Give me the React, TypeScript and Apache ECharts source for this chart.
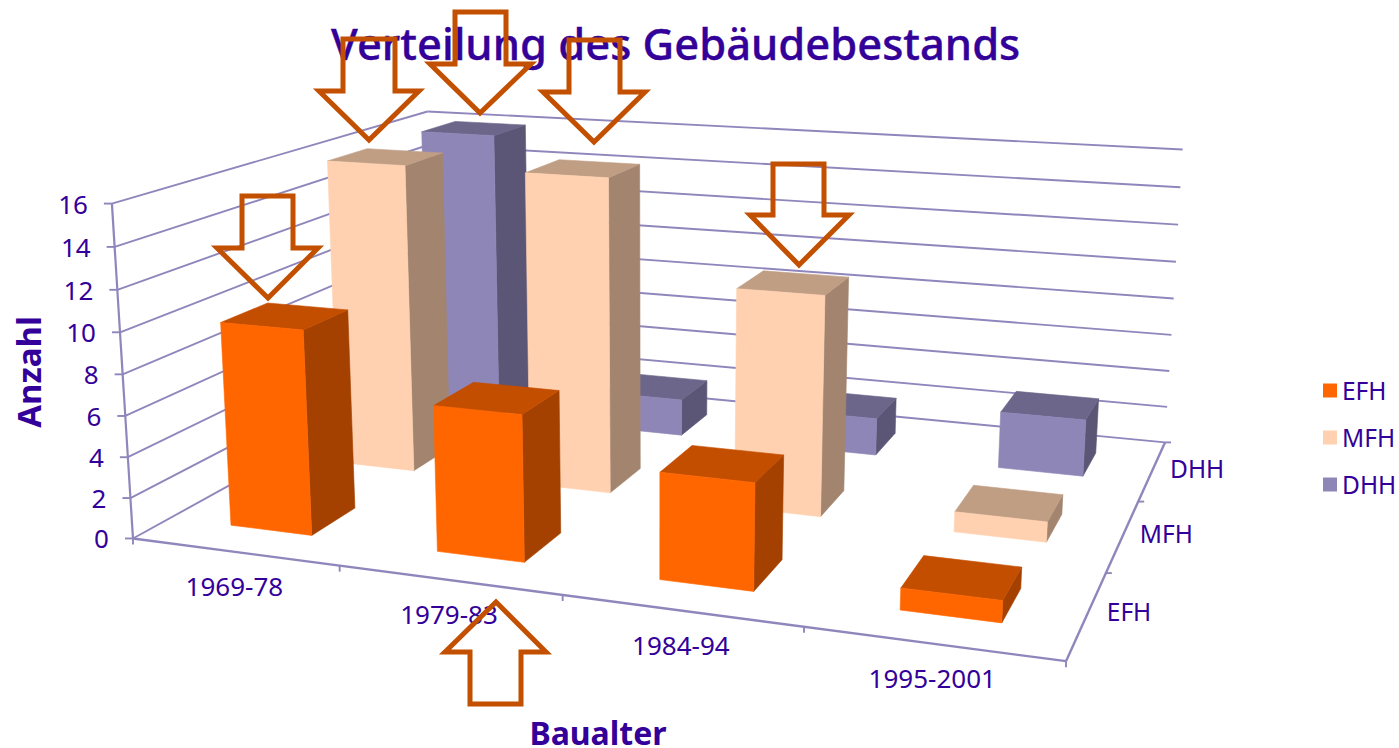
import React, { useEffect, useRef } from "react";
import * as echarts from "echarts";

const periods = ["1969-78", "1979-83", "1984-94", "1995-2001"];
const types = ["EFH", "MFH", "DHH"];
const efhValues = [10, 7, 5, 1];
const mfhValues = [16, 16, 11, 1];
const dhhValues = [16, 2, 2, 3];
const valueTicks = [0, 2, 4, 6, 8, 10, 12, 14, 16];

const TEXT = "#330099";
const GRID = "#8F86BC";
const FONT = "'Noto Sans', sans-serif";

// Calibration of the 3D view: [period, depth, value] -> picture position
const calib: number[][] = [
  [0, 0, 0, 133, 538],
  [1, 0, 0, 340, 566],
  [2, 0, 0, 563, 597],
  [3, 0, 0, 803, 629],
  [4, 0, 0, 1065, 660],
  [4, 1, 0, 1107, 572],
  [4, 2, 0, 1138, 501],
  [4, 3, 0, 1165, 442],
  [0, 0, 8, 123, 373],
  [0, 0, 16, 112, 203],
  [0, 3, 16, 427, 112],
  [4, 3, 16, 1183, 150],
];

function solveProjection(): number[] {
  const rows: number[][] = [];
  const rhs: number[] = [];
  for (const [a, b, c, u0, v0] of calib) {
    const x = a / 4, y = b / 3, z = c / 16, u = u0 / 1000, v = v0 / 1000;
    rows.push([x, y, z, 1, 0, 0, 0, 0, -u * x, -u * y, -u * z]); rhs.push(u);
    rows.push([0, 0, 0, 0, x, y, z, 1, -v * x, -v * y, -v * z]); rhs.push(v);
  }
  const n = 11;
  const m: number[][] = [];
  for (let i = 0; i < n; i++) {
    const r: number[] = [];
    for (let j = 0; j < n; j++) r.push(rows.reduce((s, w) => s + w[i] * w[j], 0));
    r.push(rows.reduce((s, w, k) => s + w[i] * rhs[k], 0));
    m.push(r);
  }
  for (let i = 0; i < n; i++) {
    let p = i;
    for (let k = i + 1; k < n; k++) if (Math.abs(m[k][i]) > Math.abs(m[p][i])) p = k;
    [m[i], m[p]] = [m[p], m[i]];
    for (let k = 0; k < n; k++) {
      if (k === i) continue;
      const f = m[k][i] / m[i][i];
      for (let j = i; j <= n; j++) m[k][j] -= f * m[i][j];
    }
  }
  return m.map((r, i) => r[n] / r[i]);
}
const P = solveProjection();
function proj(a: number, b: number, c: number): number[] {
  const x = a / 4, y = b / 3, z = c / 16;
  const w = P[8] * x + P[9] * y + P[10] * z + 1;
  return [
    (1000 * (P[0] * x + P[1] * y + P[2] * z + P[3])) / w,
    (1000 * (P[4] * x + P[5] * y + P[6] * z + P[7])) / w,
  ];
}

const BAR_MARGIN = 0.3;
const BAR_SHIFT = 0.005;
const line = (p: number[], q: number[], w = 1.9) => ({
  type: "line",
  shape: { x1: p[0], y1: p[1], x2: q[0], y2: q[1] },
  style: { stroke: GRID, lineWidth: w },
  silent: true,
});
const label = (text: string, x: number, y: number, align = "center", size = 26) => ({
  type: "text",
  style: { text, x, y, align, verticalAlign: "middle", fill: TEXT, font: `${size}px ${FONT}` },
  silent: true,
});

function barSeries(name: string, values: number[], depth: number, front: string, top: string, side: string) {
  return {
    type: "custom",
    name,
    coordinateSystem: "cartesian2d",
    itemStyle: { color: front },
    encode: { x: 0, y: 1 },
    data: values.map((v, i) => [i, v]),
    renderItem: (_p: any, api: any) => {
      const cat = api.value(0), val = api.value(1);
      const x0 = cat + BAR_MARGIN + BAR_SHIFT, x1 = cat + 1 - BAR_MARGIN + BAR_SHIFT;
      const y0 = depth + BAR_MARGIN, y1 = depth + 1 - BAR_MARGIN;
      const face = (pts: number[][], fill: string) => ({
        type: "polygon",
        shape: { points: pts.map((q) => proj(q[0], q[1], q[2])) },
        style: { fill, stroke: fill, lineWidth: 0.6 },
      });
      return {
        type: "group",
        children: [
          face([[x1, y0, 0], [x1, y1, 0], [x1, y1, val], [x1, y0, val]], side),
          face([[x0, y0, val], [x1, y0, val], [x1, y1, val], [x0, y1, val]], top),
          face([[x0, y0, 0], [x1, y0, 0], [x1, y0, val], [x0, y0, val]], front),
        ],
      };
    },
  };
}

const arrows: number[][][] = [
  [[242, 196], [293, 196], [293, 248], [318, 248], [268, 298], [217, 248], [242, 248]],
  [[343, 39], [395, 39], [395, 91], [419, 91], [369, 140], [319, 91], [343, 91]],
  [[455, 12], [506, 12], [506, 64], [531, 64], [480, 113], [430, 64], [455, 64]],
  [[569, 40], [620, 40], [620, 92], [645, 92], [594, 142], [543, 92], [569, 92]],
  [[773, 164], [824, 164], [824, 215], [849, 215], [799, 265], [750, 215], [773, 215]],
  [[496, 602], [546, 652], [521, 652], [521, 704], [470, 704], [470, 652], [445, 652]],
];

export default function App() {
  const ref = useRef<HTMLDivElement>(null);
  useEffect(() => {
    document.body.style.margin = "0";
    const chart = echarts.init(ref.current!, undefined, { renderer: "svg" });
    chart.setOption({
      animation: false,
      backgroundColor: "#fff",
      title: {
        text: "Verteilung des Gebäudebestands",
        left: 326,
        top: 16,
        textStyle: {
          color: TEXT,
          fontFamily: FONT,
          fontSize: 43.5,
          fontWeight: 500,
          textBorderColor: TEXT,
          textBorderWidth: 0.4,
        },
      },
      grid: { left: 0, right: 0, top: 0, bottom: 0 },
      xAxis: { type: "category", data: periods, show: false },
      yAxis: { type: "value", min: 0, max: 16, show: false },
      legend: {
        data: types,
        orient: "vertical",
        left: 1323,
        top: 378,
        padding: 0,
        itemWidth: 14,
        itemHeight: 14,
        itemGap: 22,
        icon: "rect",
        textStyle: { color: TEXT, fontFamily: FONT, fontSize: 24.5 },
        selectedMode: false,
      },
      series: [
        {
          type: "custom",
          name: "grid",
          coordinateSystem: "cartesian2d",
          encode: { x: 0, y: 1 },
          data: valueTicks.map((v) => [0, v]),
          renderItem: (_p: any, api: any) => {
            const v = api.value(1);
            const a = proj(0, 0, v), b = proj(0, 3, v), c = proj(4, 3, v);
            return {
              type: "group",
              children: [
                line(a, b),
                line(b, c),
                line([a[0] - 8, a[1]], a),
                label(String(v), a[0] - 24, a[1], "right"),
              ],
            };
          },
        },
        {
          type: "custom",
          name: "axes",
          coordinateSystem: "cartesian2d",
          encode: { x: 0, y: 1 },
          data: [[0, 0]],
          renderItem: () => ({
            type: "group",
            children: [
              line(proj(0, 0, 0), proj(0, 0, 16), 2.2),
              line(proj(0, 0, 0), proj(4, 0, 0), 2.4),
              line(proj(4, 0, 0), proj(4, 3, 0), 2.4),
              ...[0, 1, 2, 3, 4].map((i) => {
                const p = proj(i, 0, 0);
                return line(p, [p[0], p[1] + 6]);
              }),
              ...[1, 2, 3].map((i) => {
                const p = proj(4, i, 0);
                return line(p, [p[0] + 6, p[1]]);
              }),
              ...periods.map((t, i) => {
                const p = proj(i + 0.5, 0, 0);
                return label(t, p[0], p[1] + 34);
              }),
              ...types.map((t, i) => {
                const p = proj(4, i + 0.5, 0);
                return label(t, p[0] + 42 + i * 1.5, p[1] - 2 - (i === 0 ? 1 : 0), "center", 24.5);
              }),
            ],
          }),
        },
        barSeries("DHH", dhhValues, 2, "#8F86B8", "#6C668A", "#5C5676"),
        barSeries("MFH", mfhValues, 1, "#FFD1B0", "#C09E84", "#A3856F"),
        barSeries("EFH", efhValues, 0, "#FF6600", "#C44E00", "#A44100"),
      ],
      graphic: [
        ...arrows.map((points) => ({
          type: "polygon",
          z: 100,
          shape: { points },
          style: { fill: "none", stroke: "#C25000", lineWidth: 5, lineJoin: "miter" },
        })),
        {
          type: "text",
          z: 50,
          x: 28,
          y: 372,
          rotation: Math.PI / 2,
          style: { text: "Anzahl", align: "center", verticalAlign: "middle", fill: TEXT, font: `bold 33px ${FONT}` },
        },
        {
          type: "text",
          z: 50,
          x: 598,
          y: 732,
          style: { text: "Baualter", align: "center", verticalAlign: "middle", fill: TEXT, font: `bold 32px ${FONT}` },
        },
      ],
    });
    return () => chart.dispose();
  }, []);
  return <div ref={ref} style={{ width: 1399, height: 748 }} />;
}
